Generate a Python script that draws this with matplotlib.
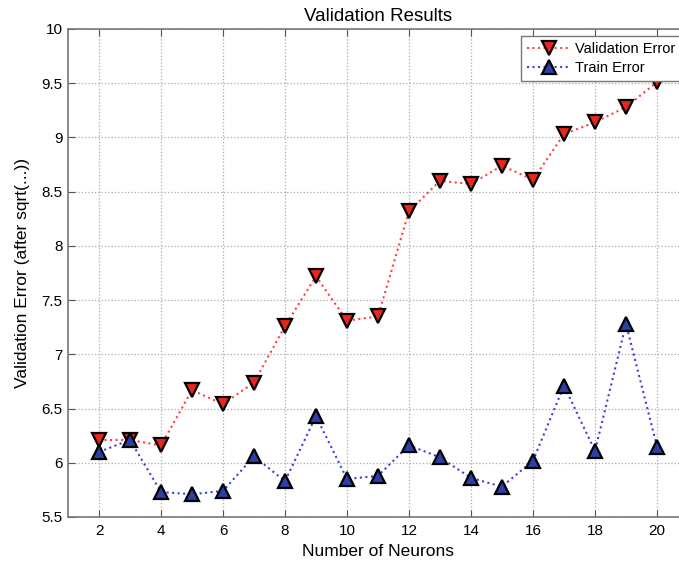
import matplotlib.pyplot as plt

plt.rcParams["font.family"] = ["Liberation Sans", "DejaVu Sans"]

neurons = [2, 3, 4, 5, 6, 7, 8, 9, 10, 11, 12, 13, 14, 15, 16, 17, 18, 19, 20]
val_err = [6.21, 6.21, 6.16, 6.67, 6.54, 6.74, 7.26, 7.72, 7.31, 7.35,
           8.32, 8.60, 8.57, 8.74, 8.61, 9.03, 9.14, 9.28, 9.51]
train_err = [6.10, 6.21, 5.73, 5.71, 5.74, 6.06, 5.83, 6.43, 5.85, 5.88,
             6.16, 6.05, 5.86, 5.78, 6.02, 6.71, 6.11, 7.28, 6.15]
yticks = [5.5, 6, 6.5, 7, 7.5, 8, 8.5, 9, 9.5, 10]
xticks = [2, 4, 6, 8, 10, 12, 14, 16, 18, 20]

W, H = 679, 566
fig = plt.figure(figsize=(W / 100, H / 100), dpi=100)
# axes runs past the right edge of the figure on purpose
ax = fig.add_axes([68 / W, (H - 517) / H, 620 / W, 488 / H])

ax.plot(neurons, val_err, ls=":", lw=1.5, color="#ff4040",
        marker="v", ms=10, mfc="#e8261c", mec="black", mew=1.6,
        label="Validation Error")
ax.plot(neurons, train_err, ls=":", lw=1.5, color="#4040d0",
        marker="^", ms=10, mfc="#2a3fa8", mec="black", mew=1.6,
        label="Train Error")

ax.set_xlim(1, 21)
ax.set_ylim(5.5, 10)
ax.set_xticks(xticks)
ax.set_yticks(yticks)
ax.set_yticklabels(["5.5", "6", "6.5", "7", "7.5", "8", "8.5", "9", "9.5", "10"])
ax.tick_params(direction="in", top=True, right=True, labelsize=11,
               length=5, color="#555555")
ax.tick_params(axis="x", pad=5)
ax.tick_params(axis="y", pad=4)
for s in ax.spines.values():
    s.set_color("#777777")
    s.set_linewidth(1.2)
ax.grid(True, ls=":", color="#aaaaaa", lw=0.9)

ax.set_title("Validation Results", fontsize=13.5, pad=6)
ax.set_xlabel("Number of Neurons", fontsize=12.5, labelpad=4)
ax.set_ylabel("Validation Error (after sqrt(...))", fontsize=12.5, labelpad=8)

leg = ax.legend(loc="upper left", bbox_to_anchor=(521 / W, 1 - 36 / H),
                bbox_transform=fig.transFigure, fontsize=10.5,
                handlelength=3.0, fancybox=False, framealpha=1,
                edgecolor="#777777", borderpad=0.4, labelspacing=0.35,
                handletextpad=0.3, borderaxespad=0)
leg.get_frame().set_linewidth(1.0)

fig.savefig("out.png", dpi=100)
